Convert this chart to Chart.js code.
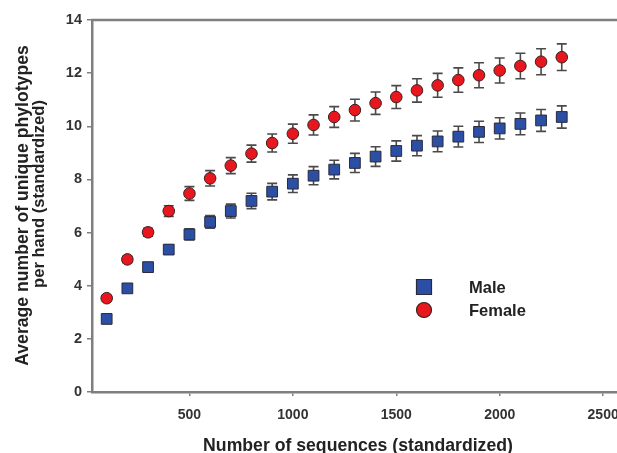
<!DOCTYPE html>
<html>
<head>
<meta charset="utf-8">
<script src="https://cdn.jsdelivr.net/npm/chart.js@4/dist/chart.umd.min.js"></script>
<style>
  html, body { margin: 0; padding: 0; background: #fff; overflow: hidden; }
  /* the source figure is cropped on the right, so the canvas runs past the window edge */
  #wrap { width: 626px; height: 453px; position: relative; }
</style>
</head>
<body>
<div id="wrap"><canvas id="curve"></canvas></div>
<script>
// Number of sequences sampled per hand
const sequences = [100, 200, 300, 400, 500, 600, 700, 800, 900, 1000, 1100, 1200,
  1300, 1400, 1500, 1600, 1700, 1800, 1900, 2000, 2100, 2200, 2300];

const maleMeans = [2.75, 3.90, 4.70, 5.36, 5.93, 6.40, 6.81, 7.19, 7.54, 7.84, 8.14, 8.37,
  8.62, 8.86, 9.07, 9.27, 9.43, 9.61, 9.79, 9.92, 10.09, 10.22, 10.35];
const maleErrors = [0.09, 0.11, 0.14, 0.17, 0.21, 0.24, 0.26, 0.29, 0.31, 0.33, 0.34, 0.35,
  0.36, 0.37, 0.38, 0.38, 0.39, 0.39, 0.40, 0.40, 0.41, 0.41, 0.42];

const femaleMeans = [3.53, 4.99, 6.01, 6.81, 7.47, 8.04, 8.52, 8.97, 9.37, 9.72, 10.05, 10.35,
  10.61, 10.87, 11.10, 11.35, 11.54, 11.74, 11.92, 12.10, 12.27, 12.43, 12.60];
const femaleErrors = [0.10, 0.12, 0.15, 0.20, 0.26, 0.29, 0.30, 0.32, 0.34, 0.36, 0.38, 0.39,
  0.41, 0.42, 0.43, 0.44, 0.45, 0.46, 0.47, 0.47, 0.48, 0.49, 0.50];

const xTickValues = [500, 1000, 1500, 2000, 2500];
const yTickValues = [0, 2, 4, 6, 8, 10, 12, 14];

const seriesNames = ['Male', 'Female'];
const xTitle = 'Number of sequences (standardized)';
const yTitleLines = ['Average number of unique phylotypes', 'per hand (standardized)'];

const FONT = '"Liberation Sans", Arial, Helvetica, sans-serif';
const AXIS_GRAY = '#7f7f7f';
const TEXT_COLOR = '#222';

const toPoints = (means) => sequences.map((x, i) => ({ x, y: means[i] }));

// Set a bold font whose size makes the text span the given width.
const fitText = (ctx, text, width, size) => {
  ctx.font = `bold ${size}px ${FONT}`;
  const natural = ctx.measureText(text).width;
  ctx.font = `bold ${size * width / natural}px ${FONT}`;
};

// Vertical error bars, drawn beneath the markers.
const errorBars = {
  id: 'errorBars',
  beforeDatasetsDraw(chart) {
    const { ctx } = chart;
    const yScale = chart.scales.y;
    const errorSets = [maleErrors, femaleErrors];
    ctx.save();
    ctx.strokeStyle = '#4a4a4a';
    ctx.lineWidth = 1.6;
    chart.data.datasets.forEach((ds, di) => {
      const meta = chart.getDatasetMeta(di);
      meta.data.forEach((pt, i) => {
        const v = ds.data[i].y;
        const e = errorSets[di][i];
        const top = yScale.getPixelForValue(v + e);
        const bottom = yScale.getPixelForValue(v - e);
        ctx.beginPath();
        ctx.moveTo(pt.x, top);
        ctx.lineTo(pt.x, bottom);
        ctx.moveTo(pt.x - 5, top);
        ctx.lineTo(pt.x + 5, top);
        ctx.moveTo(pt.x - 5, bottom);
        ctx.lineTo(pt.x + 5, bottom);
        ctx.stroke();
      });
    });
    ctx.restore();
  }
};

// Top frame line, axis titles and the in-plot legend.
const decorations = {
  id: 'decorations',
  afterDraw(chart) {
    const { ctx, chartArea } = chart;
    ctx.save();

    ctx.strokeStyle = AXIS_GRAY;
    ctx.lineWidth = 2.5;
    ctx.beginPath();
    ctx.moveTo(chartArea.left - 1, chartArea.top);
    ctx.lineTo(chartArea.right, chartArea.top);
    ctx.stroke();

    ctx.fillStyle = TEXT_COLOR;
    ctx.textAlign = 'center';
    ctx.textBaseline = 'alphabetic';
    fitText(ctx, xTitle, 310, 18);
    ctx.fillText(xTitle, 358, 451);

    // [baseline x, centre y, span]
    const yTitleSpots = [[28, 205.5, 321], [43.5, 194, 188]];
    yTitleLines.forEach((line, i) => {
      const [x, y, w] = yTitleSpots[i];
      ctx.save();
      ctx.translate(x, y);
      ctx.rotate(-Math.PI / 2);
      fitText(ctx, line, w, 17);
      ctx.fillText(line, 0, 0);
      ctx.restore();
    });

    // legend
    const legendY = [287, 310];
    chart.data.datasets.forEach((ds, i) => {
      ctx.fillStyle = ds.backgroundColor;
      ctx.strokeStyle = ds.borderColor;
      ctx.lineWidth = 1.2;
      ctx.beginPath();
      if (ds.pointStyle === 'rect') {
        ctx.rect(424 - 7.5, legendY[i] - 7.5, 15, 15);
      } else {
        ctx.arc(424, legendY[i], 7.5, 0, Math.PI * 2);
      }
      ctx.fill();
      ctx.stroke();
      ctx.fillStyle = TEXT_COLOR;
      ctx.textAlign = 'left';
      ctx.textBaseline = 'middle';
      ctx.font = `bold 16.5px ${FONT}`;
      ctx.fillText(seriesNames[i], 469, legendY[i] + 1);
    });
    ctx.restore();
  }
};

new Chart(document.getElementById('curve'), {
  type: 'scatter',
  data: {
    datasets: [{
      label: seriesNames[0],
      data: toPoints(maleMeans),
      pointStyle: 'rect',
      pointRadius: 7.6,
      backgroundColor: '#2c4fa6',
      borderColor: '#2a2a3a',
      borderWidth: 1
    }, {
      label: seriesNames[1],
      data: toPoints(femaleMeans),
      pointStyle: 'circle',
      pointRadius: 5.8,
      backgroundColor: '#e8161d',
      borderColor: '#3a2020',
      borderWidth: 1
    }]
  },
  options: {
    responsive: true,
    maintainAspectRatio: false,
    animation: false,
    layout: { padding: { top: 20, right: 0, left: 0, bottom: 0 } },
    plugins: {
      legend: { display: false },
      tooltip: { enabled: false }
    },
    scales: {
      x: {
        type: 'linear',
        min: 29,
        max: 2569,
        afterFit: (scale) => {
          scale.height = 61;
          scale.paddingLeft = 0;
          scale.paddingRight = 0;
        },
        afterBuildTicks: (scale) => { scale.ticks = xTickValues.map((value) => ({ value })); },
        border: { display: true, color: AXIS_GRAY, width: 2.5 },
        grid: { drawOnChartArea: false, drawTicks: true, tickLength: 4, color: AXIS_GRAY, lineWidth: 1.5 },
        ticks: {
          color: '#333',
          padding: 11,
          maxRotation: 0,
          callback: (value) => String(value),
          font: { family: FONT, size: 14, weight: 'bold' }
        }
      },
      y: {
        type: 'linear',
        min: 0,
        max: 14,
        afterFit: (scale) => {
          scale.width = 92;
          scale.paddingTop = 0;
          scale.paddingBottom = 0;
        },
        afterBuildTicks: (scale) => { scale.ticks = yTickValues.map((value) => ({ value })); },
        border: { display: true, color: AXIS_GRAY, width: 2.5 },
        grid: { drawOnChartArea: false, drawTicks: true, tickLength: 5, color: AXIS_GRAY, lineWidth: 1.5 },
        ticks: { color: '#333', padding: 5, font: { family: FONT, size: 14.5, weight: 'bold' } }
      }
    }
  },
  plugins: [errorBars, decorations]
});
</script>
</body>
</html>
